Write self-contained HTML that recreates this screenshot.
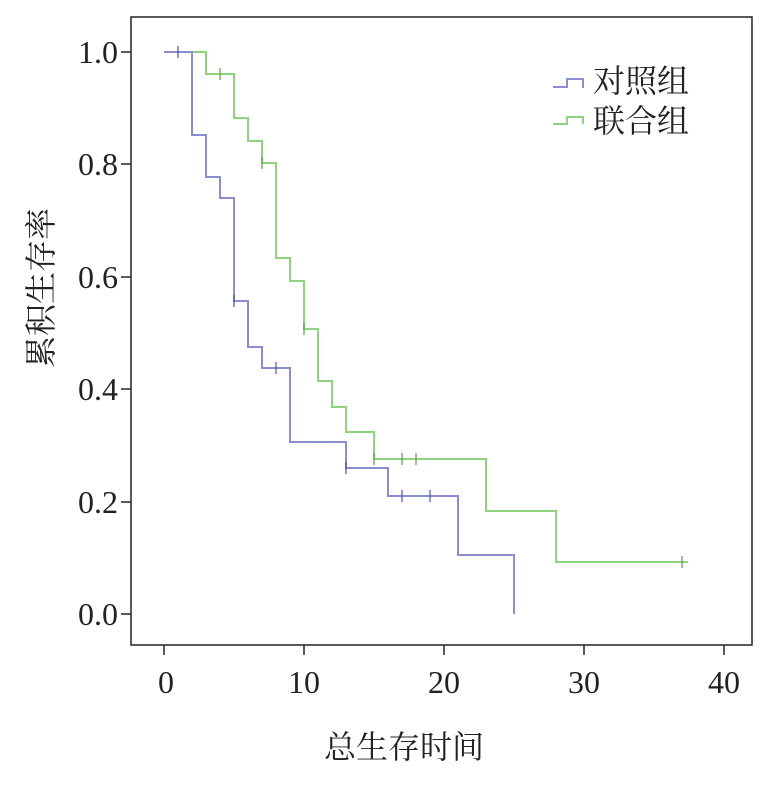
<!DOCTYPE html>
<html><head><meta charset="utf-8"><style>body{margin:0;background:#fff}</style></head><body>
<svg width="783" height="784" xmlns="http://www.w3.org/2000/svg" font-family="Liberation Serif, Noto Serif CJK SC, serif">
<rect x="131" y="17" width="621" height="628" fill="#fff" stroke="#222" stroke-width="1.5"/>
<g stroke="#222" stroke-width="1.5">
<line x1="164" y1="645" x2="164" y2="655"/><line x1="304" y1="645" x2="304" y2="655"/><line x1="444" y1="645" x2="444" y2="655"/><line x1="584" y1="645" x2="584" y2="655"/><line x1="724" y1="645" x2="724" y2="655"/>
<line x1="121" y1="52" x2="131" y2="52"/><line x1="121" y1="164" x2="131" y2="164"/><line x1="121" y1="277" x2="131" y2="277"/><line x1="121" y1="389" x2="131" y2="389"/><line x1="121" y1="502" x2="131" y2="502"/><line x1="121" y1="614" x2="131" y2="614"/>
</g>
<g font-size="32" fill="#222" text-anchor="middle">
<text x="166" y="693">0</text><text x="304" y="693">10</text><text x="444" y="693">20</text><text x="584" y="693">30</text><text x="724" y="693">40</text>
</g>
<g font-size="32" fill="#222" text-anchor="end">
<text x="118" y="63">1.0</text><text x="118" y="175">0.8</text><text x="118" y="288">0.6</text><text x="118" y="400">0.4</text><text x="118" y="513">0.2</text><text x="118" y="625">0.0</text>
</g>
<text x="404" y="758" font-size="32" fill="#222" text-anchor="middle">总生存时间</text>
<text transform="translate(52,288) rotate(-90)" font-size="32" fill="#222" text-anchor="middle">累积生存率</text>
<polyline fill="none" stroke="#8fd27f" stroke-width="2" points="164,52 206,52 206,74 234,74 234,118 248,118 248,141 262,141 262,163 276,163 276,258 290,258 290,281 304,281 304,329 318,329 318,381 332,381 332,407 346,407 346,432 374,432 374,459 486,459 486,511 556,511 556,562 688,562"/>
<polyline fill="none" stroke="#8a8ed0" stroke-width="2" points="164,52 192,52 192,135 206,135 206,177 220,177 220,198 234,198 234,301 248,301 248,347 262,347 262,368 290,368 290,442 346,442 346,468 388,468 388,496 458,496 458,555 514,555 514,614"/>
<g stroke="#5a9d4a" stroke-width="1.2">
<line x1="220" y1="68" x2="220" y2="80"/><line x1="262" y1="157" x2="262" y2="169"/><line x1="304" y1="323" x2="304" y2="335"/><line x1="374" y1="453" x2="374" y2="465"/><line x1="402" y1="453" x2="402" y2="465"/><line x1="416" y1="453" x2="416" y2="465"/><line x1="682" y1="556" x2="682" y2="568"/>
</g>
<g stroke="#4a4fa8" stroke-width="1.2">
<line x1="178" y1="46" x2="178" y2="58"/><line x1="234" y1="295" x2="234" y2="307"/><line x1="276" y1="362" x2="276" y2="374"/><line x1="346" y1="462" x2="346" y2="474"/><line x1="402" y1="490" x2="402" y2="502"/><line x1="430" y1="490" x2="430" y2="502"/>
</g>
<polyline fill="none" stroke="#8a8ed0" stroke-width="2" points="553,87 567,87 567,79 583,79 583,88"/>
<polyline fill="none" stroke="#8fd27f" stroke-width="2" points="553,124 567,124 567,117 583,117 583,124"/>
<g font-size="32" fill="#222"><text x="593" y="92">对照组</text><text x="593" y="132">联合组</text></g>
</svg>
</body></html>
